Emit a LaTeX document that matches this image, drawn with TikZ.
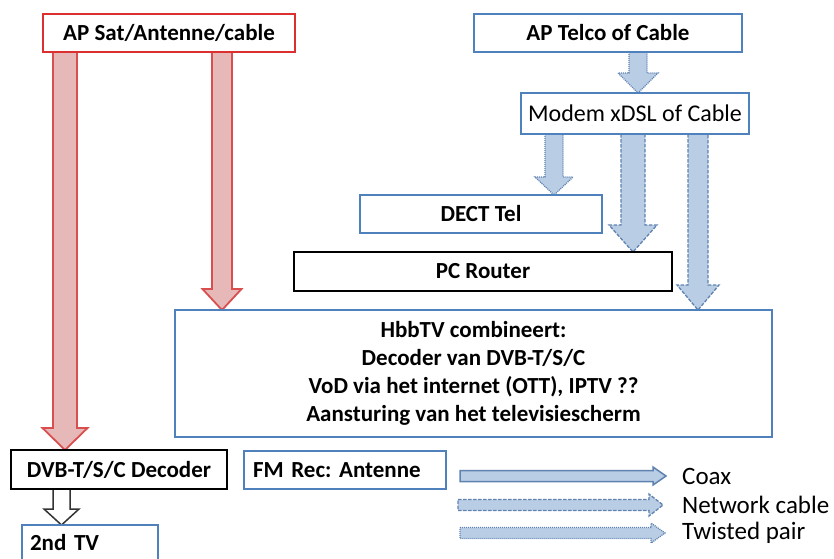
\documentclass[tikz,border=0pt]{standalone}
\usepackage{fontspec}
\setmainfont{Carlito}
\usetikzlibrary{calc}
\pgfdeclarelayer{background}
\pgfsetlayers{background,main}
\definecolor{bluebox}{HTML}{4F81BD}
\definecolor{redbox}{HTML}{DC2F2F}
\definecolor{afill}{HTML}{B9CDE5}
\definecolor{aline}{HTML}{5F82B0}
\definecolor{rfill}{HTML}{E6B9B8}
\definecolor{rline}{HTML}{D94F4F}
% vertical block arrow: style, x, from, to, half shaft, half head, head length
\newcommand\varrow[7]{%
  \draw[#1] let \p1=(#3), \p2=(#4) in
    ({#2pt-#5pt},\y1) -- ({#2pt-#5pt},{\y2+#7pt}) -- ({#2pt-#6pt},{\y2+#7pt})
    -- (#2pt,\y2) -- ({#2pt+#6pt},{\y2+#7pt}) -- ({#2pt+#5pt},{\y2+#7pt})
    -- ({#2pt+#5pt},\y1) -- cycle;}
% horizontal block arrow: style, from, tip, half shaft, half head, head length
\newcommand\harrow[6]{%
  \draw[#1] let \p1=(#2), \p2=(#3) in
    (\x1,{\y1+#4pt}) -- ({\x2-#6pt},{\y1+#4pt}) -- ({\x2-#6pt},{\y1+#5pt})
    -- (\x2,\y1) -- ({\x2-#6pt},{\y1-#5pt}) -- ({\x2-#6pt},{\y1-#4pt})
    -- (\x1,{\y1-#4pt}) -- cycle;}
\tikzset{
  box/.style={draw, fill=white, line width=1.8pt, inner sep=0pt, outer sep=0pt,
    anchor=north west, align=center, font=\fontsize{23}{28}\selectfont\bfseries\frenchspacing},
  regbox/.style={box, font=\fontsize{24}{28}\selectfont\frenchspacing},
  legtext/.style={anchor=west, inner sep=0pt, font=\fontsize{25}{28}\selectfont},
  redarrow/.style={fill=rfill, draw=rline, line width=1.8pt},
  tparrow/.style={fill=afill, draw=aline, line width=1.3pt, dash pattern=on 1pt off 1pt},
  netarrow/.style={fill=afill, draw=aline, line width=1.3pt, dash pattern=on 3.5pt off 1.5pt},
  coaxarrow/.style={fill=afill, draw=aline, line width=1.5pt},
  openarrow/.style={fill=white, draw=black!80, line width=1.5pt},
}
\begin{document}
\begin{tikzpicture}[x=1pt,y=-1pt]
\useasboundingbox (0,0) rectangle (834,558);
\clip (0,0) rectangle (834,558);
% boxes
\node[box, draw=redbox, minimum width=252pt, minimum height=38pt] (sat) at (43,14) {AP Sat/Antenne/cable};
\node[box, draw=bluebox, minimum width=268pt, minimum height=38pt] (telco) at (474,14) {AP Telco of Cable};
\node[regbox, draw=bluebox, minimum width=228pt, minimum height=41pt] (modem) at (521,93) {Modem xDSL of Cable};
\node[box, draw=bluebox, minimum width=242pt, minimum height=38pt] (dect) at (360,195) {DECT Tel};
\node[box, draw=black, minimum width=378pt, minimum height=39pt] (router) at (294,252) {PC Router};
\node[box, draw=bluebox, minimum width=597pt, minimum height=127pt] (hbb) at (175,310)
  {HbbTV combineert:\\Decoder van DVB-T/S/C\\VoD via het internet (OTT), IPTV ??\\Aansturing van het televisiescherm};
\node[box, draw=black, minimum width=216pt, minimum height=39pt] (dvb) at (11,450) {DVB-T/S/C Decoder};
\node[box, draw=bluebox, minimum height=38pt, text width=184pt, inner xsep=9pt, align=left] (fm) at (244,451) {FM Rec: Antenne};
\node[box, draw=bluebox, minimum height=36pt, text width=120pt, inner xsep=8pt, align=left] (tv2) at (22,525) {2nd TV};
% connectors
\begin{pgfonlayer}{background}
\varrow{redarrow}{65}{sat.south}{dvb.north}{12}{22.5}{22}
\varrow{redarrow}{222}{sat.south}{hbb.north}{10}{19.5}{21}
\varrow{tparrow}{638}{telco.south}{modem.north}{9}{20}{20}
\varrow{tparrow}{554}{modem.south}{dect.north}{9}{19}{18}
\varrow{netarrow}{633}{modem.south}{router.north}{12}{24}{27}
\varrow{netarrow}{698}{modem.south}{hbb.north}{10}{21}{25}
\varrow{openarrow}{61.5}{dvb.south}{tv2.north}{8.5}{17.5}{16}
\end{pgfonlayer}
% legend
\node[legtext] (lcoax) at (682,476) {Coax};
\node[legtext] (lnet) at (682,505) {Network cable};
\node[legtext] (ltp) at (682,533) {Twisted pair};
\coordinate (scoax) at (460,476);
\coordinate (snet) at (458,505);
\coordinate (stp) at (460,533);
\harrow{coaxarrow}{scoax}{$(lcoax.west)+(-16,0)$}{5.5}{9}{13}
\harrow{netarrow}{snet}{$(lnet.west)+(-19,0)$}{5.5}{11}{14}
\harrow{tparrow}{stp}{$(ltp.west)+(-17,0)$}{5.5}{10}{14}
\end{tikzpicture}
\end{document}
